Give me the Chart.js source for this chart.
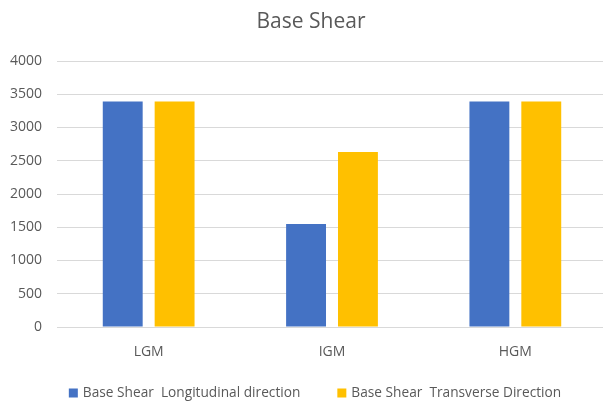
<!DOCTYPE html>
<html>
<head>
<meta charset="utf-8">
<script src="https://cdn.jsdelivr.net/npm/chart.js@4/dist/chart.umd.min.js"></script>
<style>
  html, body { margin: 0; padding: 0; background: #ffffff; overflow: hidden; }
  #wrap { width: 603px; height: 404px; overflow: hidden; }
  #c { display: block; }
</style>
</head>
<body>
<div id="wrap"><canvas id="c" width="607" height="404"></canvas></div>
<script>
const categories = ['LGM', 'IGM', 'HGM'];
const longitudinal = [3390, 1550, 3390];
const transverse = [3390, 2630, 3390];
const seriesNames = ['Base Shear  Longitudinal direction', 'Base Shear  Transverse Direction'];
const yTicks = [0, 500, 1000, 1500, 2000, 2500, 3000, 3500, 4000];
const chartTitle = 'Base Shear';

const textColor = '#595959';
const fontFamily = '"Open Sans", "Liberation Sans", sans-serif';

// Title above the plot and the legend row under the axis.
const headerFooter = {
  id: 'headerFooter',
  afterDraw(chart) {
    const ctx = chart.ctx;
    ctx.save();
    ctx.fillStyle = textColor;
    ctx.textBaseline = 'middle';
    ctx.textAlign = 'center';
    ctx.font = '21px ' + fontFamily;
    ctx.fillText(chartTitle, 311, 22);

    const box = 9, boxGap = 5, itemGap = 37;
    const y = 393;
    ctx.textAlign = 'left';
    ctx.font = '13.7px ' + fontFamily;
    const items = chart.data.datasets.map(ds => ({
      text: ds.label, color: ds.backgroundColor,
      w: box + boxGap + ctx.measureText(ds.label).width
    }));
    const total = items.reduce((s, it) => s + it.w, 0) + itemGap * (items.length - 1);
    let x = 315 - total / 2;
    items.forEach(it => {
      ctx.fillStyle = it.color;
      ctx.fillRect(x, y - box / 2, box, box);
      ctx.fillStyle = textColor;
      ctx.fillText(it.text, x + box + boxGap, y);
      x += it.w + itemGap;
    });
    ctx.restore();
  }
};

new Chart(document.getElementById('c'), {
  type: 'bar',
  data: {
    labels: categories,
    datasets: [
      { label: seriesNames[0], data: longitudinal, backgroundColor: '#4472C4',
        categoryPercentage: 0.566, barPercentage: 0.769 },
      { label: seriesNames[1], data: transverse, backgroundColor: '#FFC000',
        categoryPercentage: 0.566, barPercentage: 0.769 }
    ]
  },
  plugins: [headerFooter],
  options: {
    responsive: false,
    animation: false,
    layout: { padding: { left: 0, right: 0, top: 61, bottom: 41 } },
    plugins: {
      title: { display: false },
      legend: { display: false },
      tooltip: { enabled: false }
    },
    scales: {
      x: {
        grid: { display: false, drawTicks: false },
        border: { display: false },
        ticks: { color: textColor, font: { family: fontFamily, size: 14 }, padding: 17 },
        afterFit: (s) => { s.height = 36; }
      },
      y: {
        min: 0,
        max: 4000,
        grid: { color: '#d9d9d9', lineWidth: 1, drawTicks: false },
        border: { display: false },
        afterBuildTicks: (s) => { s.ticks = yTicks.map(v => ({ value: v })); },
        ticks: {
          color: textColor,
          font: { family: fontFamily, size: 14 },
          padding: 15,
          callback: (v) => String(v)
        },
        afterFit: (s) => { s.width = 57; }
      }
    }
  }
});
</script>
</body>
</html>
